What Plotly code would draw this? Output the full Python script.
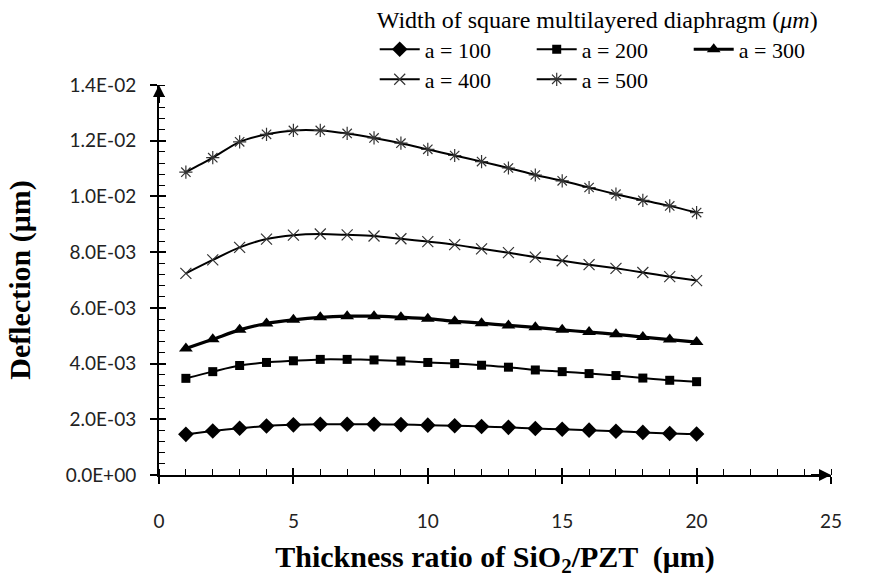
import plotly.graph_objects as go

# ---- data ----
thickness_ratio = list(range(1, 21))
a100 = [0.00146, 0.00158, 0.00168, 0.00176, 0.00180, 0.00182, 0.00182, 0.00182, 0.00181, 0.00179,
        0.00177, 0.00174, 0.00171, 0.00167, 0.00164, 0.00161, 0.00157, 0.00153, 0.00149, 0.00147]
a200 = [0.00347, 0.00371, 0.00393, 0.00404, 0.00410, 0.00415, 0.00415, 0.00413, 0.00409, 0.00404,
        0.00400, 0.00394, 0.00387, 0.00377, 0.00371, 0.00364, 0.00357, 0.00348, 0.00340, 0.00335]
a300 = [0.00454, 0.00487, 0.00521, 0.00544, 0.00557, 0.00566, 0.00570, 0.00570, 0.00566, 0.00561,
        0.00552, 0.00545, 0.00537, 0.00530, 0.00521, 0.00513, 0.00505, 0.00495, 0.00486, 0.00477]
a400 = [0.00724, 0.00772, 0.00817, 0.00847, 0.00861, 0.00865, 0.00862, 0.00858, 0.00848, 0.00838,
        0.00827, 0.00812, 0.00798, 0.00782, 0.00769, 0.00755, 0.00742, 0.00727, 0.00712, 0.00698]
a500 = [0.01087, 0.01139, 0.01196, 0.01223, 0.01237, 0.01237, 0.01226, 0.01210, 0.01191, 0.01169,
        0.01147, 0.01125, 0.01102, 0.01077, 0.01056, 0.01032, 0.01008, 0.00986, 0.00966, 0.00942]
series_names = ["a = 100", "a = 200", "a = 300", "a = 400", "a = 500"]
y_tick_vals = [0, 0.002, 0.004, 0.006, 0.008, 0.010, 0.012, 0.014]
y_tick_text = ["0.0E+00", "2.0E-03", "4.0E-03", "6.0E-03", "8.0E-03", "1.0E-02", "1.2E-02", "1.4E-02"]
x_tick_vals = [0, 5, 10, 15, 20, 25]
x_tick_text = ["0", "5", "10", "15", "20", "25"]
legend_title = "Width of square multilayered diaphragm (<i>μm</i>)"
x_title = "Thickness ratio of SiO<sub>2</sub>/PZT  (μm)"
y_title = "Deflection (μm)"

SERIF = "Liberation Serif, Times New Roman, serif"
SANS = "Lato, Liberation Sans, sans-serif"

styles = [
    dict(symbol="diamond", size=12, lw=2, legend="legend"),
    dict(symbol="square", size=9, lw=2, legend="legend"),
    dict(symbol="triangle-up", size=12, lw=3.2, legend="legend"),
    dict(symbol="x-thin-open", size=11, lw=2, legend="legend2"),
    dict(symbol="asterisk-open", size=11, lw=2, legend="legend2"),
]

fig = go.Figure()
for name, vals, st in zip(series_names, [a100, a200, a300, a400, a500], styles):
    open_sym = st["symbol"].endswith("open")
    fig.add_trace(go.Scatter(
        x=thickness_ratio, y=vals, name=name, mode="lines+markers",
        line=dict(color="black", width=st["lw"], shape="spline", smoothing=0.8),
        marker=dict(symbol=st["symbol"], size=st["size"],
                    color="#333" if open_sym else "black",
                    line=dict(width=1.2 if open_sym else 0, color="#333")),
        legend=st["legend"],
    ))

# dummy trace for overlay axes (cross ticks)
fig.add_trace(go.Scatter(x=[None], y=[None], xaxis="x2", yaxis="y2",
                         showlegend=False, hoverinfo="skip"))

legend_common = dict(orientation="h", xanchor="left", yanchor="top",
                     bgcolor="rgba(0,0,0,0)", font=dict(family=SERIF, size=22, color="black"),
                     entrywidth=102, entrywidthmode="pixels", itemwidth=40,
                     tracegroupgap=0)

fig.update_layout(
    width=874, height=578,
    margin=dict(l=159, r=43, t=85, b=103, autoexpand=False),
    paper_bgcolor="white", plot_bgcolor="white",
    font=dict(family=SANS, color="#222"),
    xaxis=dict(range=[0, 25], tickvals=x_tick_vals, ticktext=x_tick_text,
               showgrid=False, zeroline=False, showline=True, linecolor="black", linewidth=2,
               ticks="outside", ticklen=7, tickwidth=1.5, tickcolor="black",
               minor=dict(dtick=1, ticks="inside", ticklen=6, tickwidth=1.2, tickcolor="black"),
               tickfont=dict(family=SANS, size=19, color="#222"),
               ticklabelstandoff=21,
               title=dict(text=x_title, font=dict(family=SERIF, size=30, color="black", weight="bold"),
                          standoff=21)),
    yaxis=dict(range=[0, 0.014], tickvals=y_tick_vals, ticktext=y_tick_text,
               showgrid=False, zeroline=False, showline=True, linecolor="black", linewidth=2,
               ticks="outside", ticklen=7, tickwidth=1.5, tickcolor="black",
               minor=dict(dtick=0.0004, ticks="inside", ticklen=6, tickwidth=1.2, tickcolor="black"),
               tickfont=dict(family=SANS, size=19, color="#222"),
               ticklabelstandoff=10,
               title=dict(text=y_title, font=dict(family=SERIF, size=30, color="black", weight="bold"),
                          standoff=26)),
    xaxis2=dict(range=[0, 25], overlaying="x", tickvals=x_tick_vals, showticklabels=False,
                ticks="inside", ticklen=7, tickwidth=1.5, tickcolor="black",
                showgrid=False, zeroline=False, showline=False),
    yaxis2=dict(range=[0, 0.014], overlaying="y", tickvals=y_tick_vals, showticklabels=False,
                ticks="inside", ticklen=7, tickwidth=1.5, tickcolor="black",
                showgrid=False, zeroline=False, showline=False),
    legend=dict(x=0.321, y=1.225,
                title=dict(text=legend_title, side="top",
                           font=dict(family=SERIF, size=24, color="black")),
                **legend_common),
    legend2=dict(x=0.321, y=1.068, **legend_common),
    showlegend=True,
)

# axis arrows
fig.add_annotation(x=25, y=0, ax=24.2, ay=0, xref="x", yref="y", axref="x", ayref="y",
                   showarrow=True, arrowhead=2, arrowsize=1.2, arrowwidth=2, arrowcolor="black", text="")
fig.add_annotation(x=0, y=0.014, ax=0, ay=0.0133, xref="x", yref="y", axref="x", ayref="y",
                   showarrow=True, arrowhead=2, arrowsize=1.2, arrowwidth=2, arrowcolor="black", text="")

fig.write_html("out.html")
